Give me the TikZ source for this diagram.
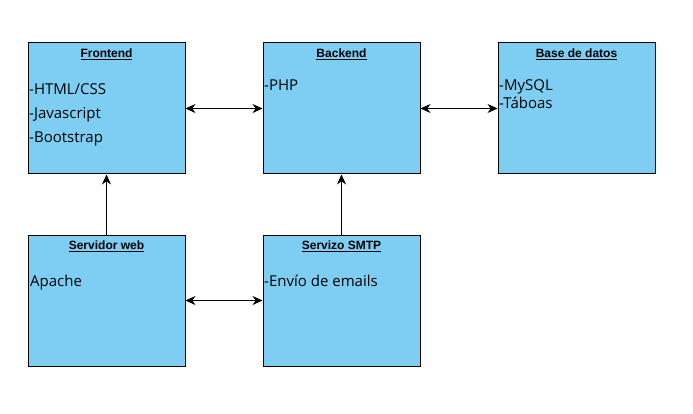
\documentclass[tikz,border=0pt]{standalone}
\usepackage{fontspec}
\setmainfont{Open Sans}
\newfontfamily\titlefont{Liberation Sans}
\usetikzlibrary{arrows.meta}
\definecolor{boxblue}{RGB}{126,206,244}
\tikzstyle{component}=[draw, fill=boxblue, line width=1pt, minimum width=157pt, minimum height=131pt, inner sep=0]
\tikzstyle{title}=[font=\titlefont\bfseries\fontsize{12}{14}\selectfont, inner sep=0]
\tikzstyle{item}=[font=\fontsize{15}{18}\selectfont, anchor=base west, inner sep=0]
\tikzstyle{link}=[line width=1pt, {Stealth[length=10pt,width=9pt]}-{Stealth[length=10pt,width=9pt]}]
\tikzstyle{uplink}=[line width=1pt, -{Stealth[length=10pt,width=9pt]}]

\begin{document}
\begin{tikzpicture}[x=1pt, y=-1pt]
          \useasboundingbox (0, 0) rectangle (693, 414);
          \node[component] (frontend) at (106.5, 108.5) {};
          \node[component] (backend) at (341.5, 108.5) {};
          \node[component] (database) at (576.5, 108.5) {};
          \node[component] (webserver) at (106.5, 300.5) {};
          \node[component] (smtp) at (341.5, 300.5) {};

          \node[title] (frontend_title) at ([yshift=-12pt]frontend.north) {\underline{Frontend}};
          \node[title] (backend_title) at ([yshift=-12pt]backend.north) {\underline{Backend}};
          \node[title] (database_title) at ([yshift=-12pt]database.north) {\underline{Base de datos}};
          \node[title] (webserver_title) at ([yshift=-12pt]webserver.north) {\underline{Servidor web}};
          \node[title] (smtp_title) at ([yshift=-12pt]smtp.north) {\underline{Servizo SMTP}};

          \node[item] (html) at (29, 95) {-HTML/CSS};
          \node[item] (js) at (29, 119) {-Javascript};
          \node[item] (bootstrap) at (29, 143) {-Bootstrap};
          \node[item] (php) at (264, 91) {-PHP};
          \node[item] (mysql) at (499, 91) {-MySQL};
          \node[item] (taboas) at (499, 109) {-Táboas};
          \node[item] (apache) at (30, 286) {Apache};
          \node[item] (emails) at (264, 286) {-Envío de emails};

          \draw[link] (frontend.east) -- (backend.west);
          \draw[link] (backend.east) -- (database.west);
          \draw[link] (webserver.east) -- (smtp.west);
          \draw[uplink] (webserver.north) -- (frontend.south);
          \draw[uplink] (smtp.north) -- (backend.south);
        \end{tikzpicture}
\end{document}
